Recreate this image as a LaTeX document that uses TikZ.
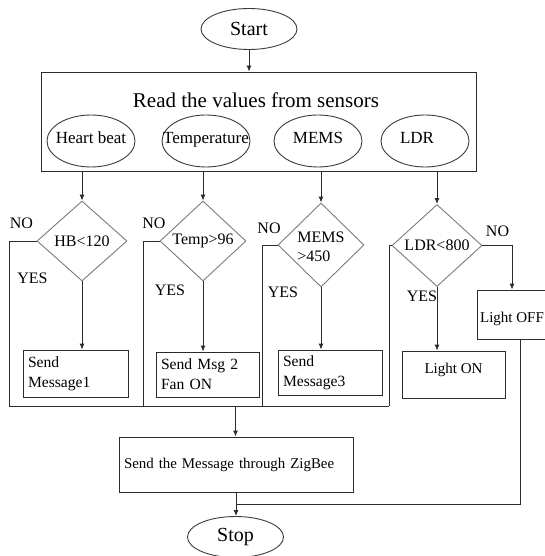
\documentclass[tikz,border=0pt]{standalone}
\usepackage{fontspec}
\setmainfont{Liberation Serif}
\usetikzlibrary{shapes.geometric,arrows.meta}
\definecolor{lineclr}{HTML}{2B2B2B}
\definecolor{edgeclr}{HTML}{3C3C3C}
\definecolor{diagclr}{HTML}{7C7C7C}
\newcommand\zw[1]{\makebox[0pt]{#1}}
\newcommand\fs[2]{\fontsize{#1}{#2}\selectfont}

\begin{document}
\begin{tikzpicture}[x=1pt,y=-1pt,
  line/.style={draw=lineclr, line width=0.9pt},
  arr/.style={line, -{Latex[length=6pt,width=5pt]}},
  term/.style={ellipse, draw=edgeclr, line width=0.9pt, minimum width=96pt,
    minimum height=41pt, inner sep=0pt, font=\fs{20}{24}},
  sensor/.style={ellipse, draw=edgeclr, line width=0.9pt, minimum width=88pt,
    minimum height=52pt, inner sep=0pt, text depth=6pt, font=\fs{17}{20}},
  test/.style={diamond, draw=diagclr, line width=0.9pt, inner sep=0pt,
    align=left, font=\fs{16}{19}},
  msgbox/.style={rectangle, draw=lineclr, line width=0.9pt, inner xsep=5pt,
    inner ysep=0pt, align=left, font=\fs{15.6}{20}},
  tag/.style={inner sep=0pt, font=\fs{16}{19}}
]
% page
\fill[white] (0,0) rectangle (544,556);
\useasboundingbox (0,0) rectangle (544,556);

% start and the sensor block
\node[term] (start) at (249,29) {Start};
\node[draw=lineclr, line width=0.9pt, minimum width=434.4pt, minimum height=99pt,
  inner sep=0pt] (read) at (258.8,121.5) {};
\node[inner sep=0pt, font=\fs{21}{24}] (title) at (256,100) {Read the values from sensors};
\node[sensor] (heart) at (91,141) {\zw{Heart beat}};
\node[sensor] (temp) at (206,141) {\zw{Temperature}};
\node[sensor] (mems) at (318,141) {\zw{MEMS}};
\node[sensor] (ldr) at (425,141) {\zw{LDR\hspace*{16pt}}};

% decisions
\node[test, minimum width=90pt, minimum height=80pt] (hb) at (82,241) {HB<120};
\node[test, minimum width=86pt, minimum height=80pt] (tp) at (203,241) {Temp>96};
\node[test, minimum width=86pt, minimum height=84pt] (ms) at (321,245) {\rule{0pt}{14pt}MEMS\\>450};
\node[test, minimum width=90pt, minimum height=82pt] (ld) at (437,245.5) {LDR<800};

% actions
\node[msgbox, text width=95pt, minimum height=47pt] (m1) at (75.5,373.5) {Send\\Message1};
\node[msgbox, text width=93pt, minimum height=45pt] (m2) at (207.5,374.5) {Send Msg 2\\Fan ON};
\node[msgbox, text width=94pt, minimum height=45pt] (m3) at (330,372.5) {Send\\Message3};
\node[rectangle, draw=lineclr, line width=0.9pt, minimum width=103pt, minimum height=47pt,
  inner sep=0pt, text height=10.5pt, text depth=13pt, font=\fs{15}{18}] (lon) at (453.5,374.5) {Light ON};
\node[rectangle, draw=lineclr, line width=0.9pt, minimum height=49pt, inner xsep=3pt,
  inner ysep=0pt, text height=18pt, text depth=3pt, font=\fs{15}{18}] (loff) at (512,314.5) {Light OFF};
\node[msgbox, text width=224pt, minimum height=55pt, font=\fs{14.9}{18}] (zig) at (236,464.5)
  {Send the Message through ZigBee};
\node[term] (stop) at (235.5,537) {Stop};

% branch labels
\node[tag] (no1) at (21.5,223) {NO};
\node[tag] (no2) at (154,223) {NO};
\node[tag] (no3) at (269,228) {NO};
\node[tag] (no4) at (497.5,231.5) {NO};
\node[tag] (yes1) at (32.5,278) {YES};
\node[tag] (yes2) at (170,290) {YES};
\node[tag] (yes3) at (283,292) {YES};
\node[tag] (yes4) at (422,296) {YES};

% collecting bus
\coordinate (b1) at (9,406);
\coordinate (b2) at (143,406);
\coordinate (b3) at (262,406);
\coordinate (b4) at (389,406);
\coordinate (bz) at (235.5,406);
\coordinate (jn) at (520,504);

% connectors
\draw[arr] (start.south) -- (start.south |- read.north);
\foreach \d in {hb,tp,ms,ld}
  \draw[arr] (\d.north |- read.south) -- (\d.north);
\draw[arr] (hb.south) -- (hb.south |- m1.north);
\draw[arr] (tp.south) -- (tp.south |- m2.north);
\draw[arr] (ms.south) -- (ms.south |- m3.north);
\draw[arr] (ld.south) -- (ld.south |- lon.north);
\draw[arr] (ld.east) -| (loff.north);
\draw[line] (hb.west) -| (b1) -- (b4);
\draw[line] (tp.west) -| (b2);
\draw[line] (ms.west) -| (b3);
\draw[line] (ld.west) -| (b4);
\draw[arr] (bz) -- (bz |- zig.north);
\draw[arr] (zig.south) -- (zig.south |- stop.north);
\draw[line] (loff.south -| jn) |- (zig.south |- jn);
\end{tikzpicture}
\end{document}
